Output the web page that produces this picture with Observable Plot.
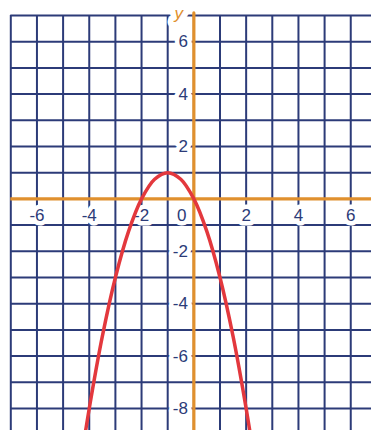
<!DOCTYPE html>
<html>
<head>
<meta charset="utf-8">
<script src="https://cdn.jsdelivr.net/npm/d3@7"></script>
<script src="https://cdn.jsdelivr.net/npm/@observablehq/plot@0.6"></script>
<style>
  html, body { margin: 0; padding: 0; background: #fff; }
  #chart { width: 371px; height: 430px; overflow: hidden; }
  #chart svg { overflow: hidden; }
</style>
</head>
<body>
<div id="chart"></div>
<script>
// Grid coordinates (one line per unit)
const gridX = d3.range(-7, 8);
const gridY = d3.range(-9, 8);

// Axis tick labels
const xTicks = [-6, -4, -2, 2, 4, 6];
const yTicks = [6, 4, 2, -2, -4, -6, -8];

// Points on the parabola
const curveX = [-4.3, -4, -3.5, -3, -2.5, -2, -1.5, -1, -0.5, 0, 0.5, 1, 1.5, 2, 2.3];
const curveY = [-9.89, -8, -5.25, -3, -1.25, 0, 0.75, 1, 0.75, 0, -1.25, -3, -5.25, -8, -9.89];
const curve = curveX.map((x, i) => ({x, y: curveY[i]}));

const navy = "#2c3b78";
const orange = "#e0902e";
const red = "#e3383d";
const font = "Liberation Sans, Arial, sans-serif";

const plot = Plot.plot({
  width: 371,
  height: 430,
  margin: 0,
  x: {domain: [-7, 7], range: [10.3, 376.4], axis: null},
  y: {domain: [7, -9], range: [15, 434.2], axis: null},
  style: {fontFamily: font, background: "white"},
  marks: [
    // grid
    Plot.ruleX(gridX, {x: d => d, y1: 7, y2: -9.5, stroke: navy, strokeWidth: 2}),
    Plot.ruleY(gridY, {y: d => d, x1: -7, x2: 7.5, stroke: navy, strokeWidth: 2}),
    // tick labels with white backing
    Plot.text(xTicks, {x: d => d, y: 0, text: d => String(d), dy: 17, fill: navy,
      stroke: "white", strokeWidth: 9, fontSize: 17, lineAnchor: "middle"}),
    Plot.text(yTicks, {x: 0, y: d => d, text: d => String(d), dx: -6, textAnchor: "end",
      fill: navy, stroke: "white", strokeWidth: 9, fontSize: 17, lineAnchor: "middle"}),
    Plot.text([0], {x: 0, y: 0, text: d => String(d), dx: -12, dy: 17, fill: navy,
      stroke: "white", strokeWidth: 9, fontSize: 17, lineAnchor: "middle"}),
    Plot.text(["y"], {x: 0, y: 7, text: d => d, dx: -15, dy: -2, fill: orange,
      stroke: "white", strokeWidth: 12, fontSize: 17, fontStyle: "italic", lineAnchor: "middle"}),
    // axes
    Plot.ruleY([0], {x1: -7, x2: 7.5, stroke: orange, strokeWidth: 3.2}),
    Plot.ruleX([0], {y1: 7.08, y2: -9.5, stroke: orange, strokeWidth: 3.2, strokeLinecap: "round"}),
    // parabola
    Plot.line(curve, {x: "x", y: "y", curve: "catmull-rom", stroke: red, strokeWidth: 3.5})
  ]
});

document.getElementById("chart").appendChild(plot);
</script>
</body>
</html>
